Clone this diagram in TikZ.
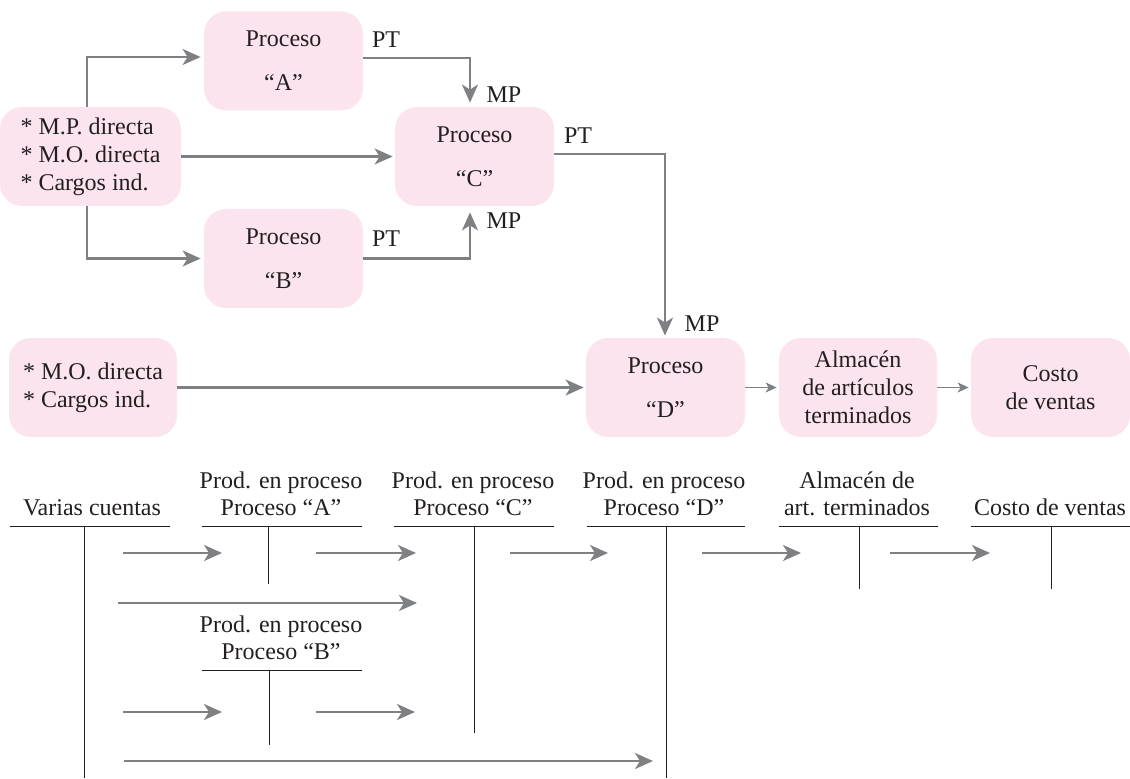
\documentclass[tikz,border=0pt]{standalone}
\usepackage{fontspec}
\setmainfont{Liberation Serif}
\usetikzlibrary{arrows.meta,calc}
\definecolor{boxpink}{HTML}{FCE4EE}
\definecolor{arrgray}{HTML}{7E8083}
\definecolor{ink}{HTML}{231F20}
\begin{document}
\begin{tikzpicture}[x=0.5pt,y=-0.5pt,
  font=\fontsize{12}{14}\selectfont, text=ink,
  box/.style={draw=none, fill=boxpink, rounded corners=11pt, minimum width=79.5pt,
    minimum height=49.5pt, inner sep=0pt, align=center},
  flow/.style={draw=arrgray, line width=1.1pt, -{Stealth[length=9pt,width=8pt,inset=2.5pt]}},
  thinflow/.style={draw=arrgray, line width=0.7pt, -{Stealth[length=5.5pt,width=5pt,inset=1.5pt]}},
  lbl/.style={inner sep=0pt},
  acct/.style={inner sep=0pt, anchor=south, align=center, font=\fontsize{12}{13.5}\selectfont},
  rule/.style={draw=ink, line width=0.45pt}
]
\useasboundingbox (0,0) rectangle (1130,779);

% ---- flow boxes ----
\node[box, minimum width=90.5pt, align=left] (in1) at (90.5,156.5) {* M.P. directa\\* M.O. directa\\* Cargos ind.};
\node[box] (A) at (283.5,61) {Proceso\\[8pt]“A”};
\node[box] (B) at (283.5,258.5) {Proceso\\[8pt]“B”};
\node[box] (C) at (474.5,156.5) {Proceso\\[8pt]“C”};
\node[box, minimum width=84pt, align=left] (in2) at (93,387.5) {* M.O. directa\\* Cargos ind.};
\node[box] (D) at (665.5,387.5) {Proceso\\[8pt]“D”};
\node[box, minimum width=79pt] (alm) at (858,387.5) {Almacén\\de artículos\\terminados};
\node[box] (cv) at (1050.5,387.5) {Costo\\de ventas};

% ---- labels ----
\node[lbl] (ptA) at (386,40) {PT};
\node[lbl] (mpA) at (504,94.5) {MP};
\node[lbl] (ptC) at (578,136) {PT};
\node[lbl] (ptB) at (386,238.5) {PT};
\node[lbl] (mpB) at (504,221) {MP};
\node[lbl] (mpD) at (702,323.5) {MP};

% ---- connectors ----
\coordinate (xl) at (87,0);
\coordinate (xc) at (470,0);
\coordinate (xd) at (665,0);
\draw[flow, shorten >=1.5pt] (in1.north -| xl) |- ([yshift=2pt]A.west);
\draw[flow, shorten >=1pt] (in1.east) -- (C.west);
\draw[flow, shorten >=1.5pt] (in1.south -| xl) |- (B.west);
\draw[flow, shorten >=2pt] ([yshift=1.5pt]A.east) -| (C.north -| xc);
\draw[flow, shorten >=3pt] (B.east) -| (C.south -| xc);
\draw[flow, shorten >=1pt] ([yshift=1.2pt]C.east) -| (D.north -| xd);
\draw[flow, shorten >=1pt] (in2.east) -- (D.west);
\draw[thinflow, shorten >=1pt] (D.east) -- (alm.west);
\draw[thinflow, shorten >=1pt] (alm.east) -- (cv.west);

% ---- T accounts ----
\node[acct] (tVC) at (92,516) {Varias cuentas};
\node[acct] (tPA) at (281,516) {Prod. en proceso\\Proceso “A”};
\node[acct] (tPC) at (473,516) {Prod. en proceso\\Proceso “C”};
\node[acct] (tPD) at (664,516) {Prod. en proceso\\Proceso “D”};
\node[acct] (tAlm) at (857,516) {Almacén de\\art. terminados};
\node[acct] (tCV) at (1050,516) {Costo de ventas};
\node[acct] (tPB) at (281,660) {Prod. en proceso\\Proceso “B”};

\draw[rule] (10,526) -- (170,526);   \draw[rule] (84,526) -- (84,778);
\draw[rule] (202,526) -- (362,526);  \draw[rule] (268,526) -- (268,584);
\draw[rule] (394,526) -- (554,526);  \draw[rule] (474,526) -- (474,733);
\draw[rule] (587,526) -- (745,526);  \draw[rule] (666,526) -- (666,778);
\draw[rule] (779,526) -- (938,526);  \draw[rule] (859,526) -- (859,589);
\draw[rule] (971,526) -- (1130,526); \draw[rule] (1051,526) -- (1051,589);
\draw[rule] (202,670) -- (362,670);  \draw[rule] (269,670) -- (269,745);

\draw[flow] (123,553) -- (222,553);
\draw[flow] (316,553) -- (416,553);
\draw[flow] (510,553) -- (608,553);
\draw[flow] (702,553) -- (801,553);
\draw[flow] (890,553) -- (990,553);
\draw[flow] (118,603) -- (417,603);
\draw[flow] (123,712) -- (222,712);
\draw[flow] (316,712) -- (415,712);
\draw[flow] (124,761) -- (653,761);
\end{tikzpicture}
\end{document}
